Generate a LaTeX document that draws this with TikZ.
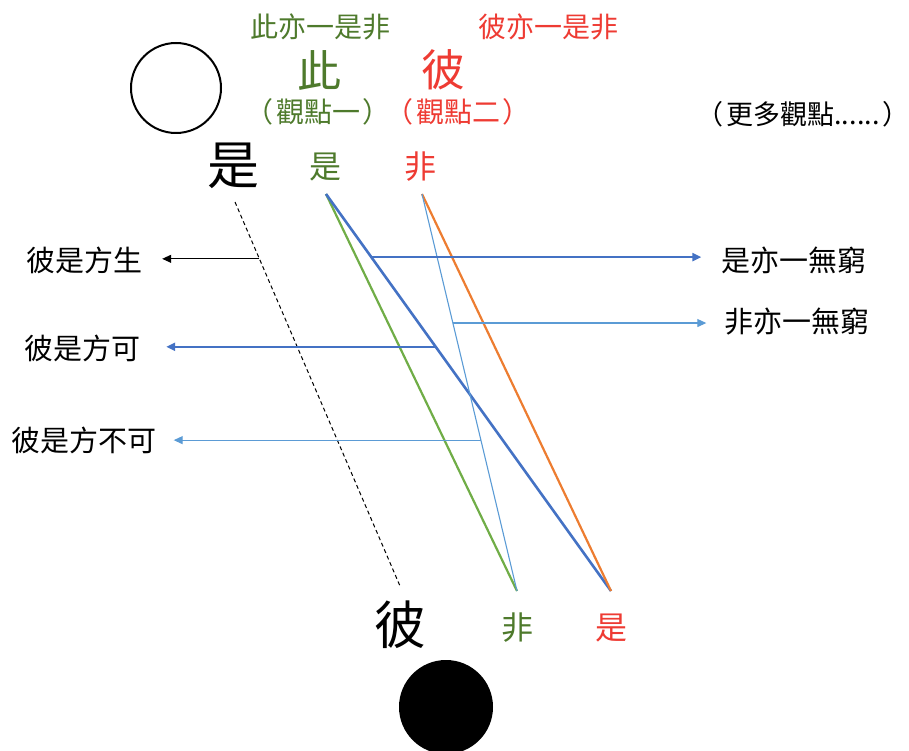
\documentclass[tikz,border=0pt]{standalone}
\usepackage{fontspec}
\setmainfont{Noto Sans CJK TC}
\usetikzlibrary{arrows.meta,calc}
\definecolor{tgreen}{HTML}{4E7A2C}
\definecolor{tred}{HTML}{EE3B33}
\definecolor{lgreen}{HTML}{70AD47}
\definecolor{dblue}{HTML}{4472C4}
\definecolor{lblue}{HTML}{5B9BD5}
\definecolor{orng}{HTML}{ED7D31}
\begin{document}
\begin{tikzpicture}[x=1pt,y=-1pt,
  txt/.style={inner sep=0pt, font=\fontsize{#1}{#1}\selectfont},
  tip/.style={-{Triangle[length=9pt,width=8pt]}},
  thinline/.style={line width=1.1pt},
  thickline/.style={line width=2.6pt},
  midline/.style={line width=2.2pt}]
\useasboundingbox (0,0) rectangle (909,751);
% circles
\draw[line width=2pt] (176,88) circle[radius=45];
\fill (446,707) circle[radius=47];
% header texts
\node[txt=28, text=tgreen] (h1) at (320,27) {此亦一是非};
\node[txt=28, text=tred] (h2) at (548,27) {彼亦一是非};
\node[txt=44, text=tgreen] (ci) at (319,70) {此};
\node[txt=44, text=tred] (bi) at (443,70) {彼};
\node[txt=28, text=tgreen] (v1) at (318,112) {\kern-14pt（\hspace{3pt}觀點一\hspace{3pt}）\kern-14pt};
\node[txt=28, text=tred] (v2) at (458,112) {\kern-14pt（\hspace{3pt}觀點二\hspace{3pt}）\kern-14pt};
\node[txt=27] (v3) at (803,114) {（\hspace{3pt}更多觀點......\hspace{3pt}）};
\node[txt=52] (shiA) at (233,166) {是};
\node[txt=32, text=tgreen] (shiG) at (325,167) {是};
\node[txt=32, text=tred] (feiR) at (420,167) {非};
\node[txt=52] (biB) at (400,625) {彼};
\node[txt=32, text=tgreen] (feiG) at (517,628) {非};
\node[txt=32, text=tred] (shiR) at (611,628) {是};
% side texts
\node[txt=29] (L1) at (84,260) {彼是方生};
\node[txt=29] (L2) at (82,348) {彼是方可};
\node[txt=29] (L3) at (84,440) {彼是方不可};
\node[txt=29] (R1) at (794,260) {是亦一無窮};
\node[txt=29] (R2) at (797,322) {非亦一無窮};
% line end points
\coordinate (gs) at (326,194);
\coordinate (rs) at (422,194);
\coordinate (ge) at (517,591);
\coordinate (re) at (611,591);
\coordinate (ds) at (235,202);
\coordinate (de) at (400,586);
% slanted lines
\draw[line width=1pt, dash pattern=on 4pt off 3pt] (ds) -- (de);
\draw[midline, lgreen] (gs) -- (ge);
\draw[thickline, dblue] (gs) -- (re);
\draw[midline, orng] (rs) -- (re);
\draw[thinline, lblue] (rs) -- (ge);
% arrow start points
\coordinate (a1) at ($(ds)!0.148!(de)$);
\coordinate (a2) at ($(gs)!0.159!(re)$);
\coordinate (a3) at ($(rs)!0.325!(ge)$);
\coordinate (a4) at ($(gs)!0.385!(re)$);
\coordinate (a5) at ($(rs)!0.620!(ge)$);
% arrows
\draw[thinline, tip] (a1) -- ($(L1.east |- a1)+(20,0)$);
\draw[thickline, dblue, tip] (a2) -- ($(R1.west |- a2)+(-20,0)$);
\draw[thinline, lblue, tip] (a3) -- ($(R2.west |- a3)+(-18,0)$);
\draw[thickline, dblue, tip] (a4) -- ($(L2.east |- a4)+(26,0)$);
\draw[thinline, lblue, tip] (a5) -- ($(L3.east |- a5)+(17,0)$);
\end{tikzpicture}
\end{document}
